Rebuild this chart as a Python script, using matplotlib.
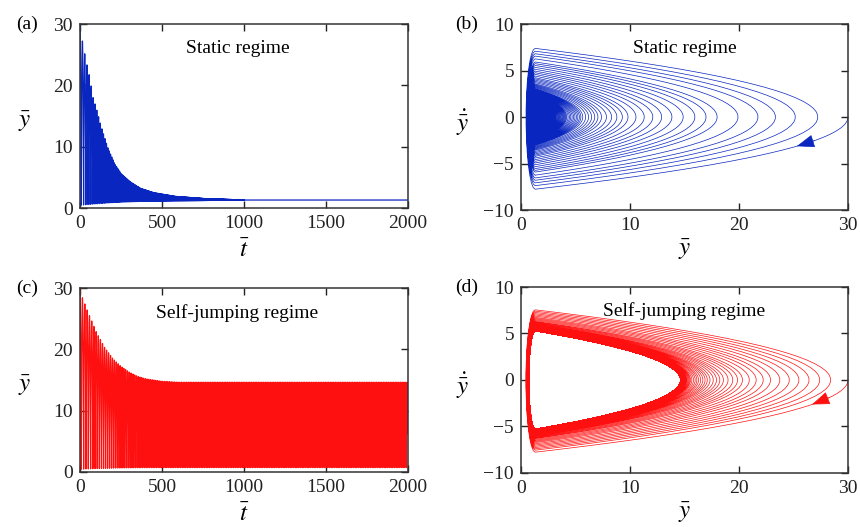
import numpy as np
import matplotlib
matplotlib.use("Agg")
from matplotlib import pyplot as plt

# peak heights of the bounces (a) and (c)
static_t = [0, 15, 30, 45, 60, 80, 100, 130, 170, 210, 250, 310, 370, 450, 580, 780, 1000, 2000]
static_peak = [30, 27.2, 25.0, 23.0, 21.2, 18.0, 16.2, 13.2, 9.8, 7.3, 5.6, 4.2, 3.2, 2.5, 1.9, 1.5, 1.32, 1.3]
jump_t = [0, 15, 50, 100, 150, 200, 250, 300, 350, 400, 500, 600, 2000]
jump_peak = [30, 28.4, 26.0, 22.8, 20.3, 18.5, 17.2, 16.3, 15.6, 15.2, 14.8, 14.65, 14.65]

# arrow tips on the first fall in (b) and (d)
arrow_tip_b = 25.3
arrow_tip_d = 26.7

rest_level = 1.3
gravity = 1.05
stiffness = 9.0

t_ticks = [0, 500, 1000, 1500, 2000]
y_ticks = [0, 10, 20, 30]
v_ticks = [-10, -5, 0, 5, 10]

blue = "#0a26c0"
red = "#ff1010"


def bounce_path(env_t, env_peak, t_end=2000):
    ts, ys, vs = [], [], []
    h0 = env_peak[0]
    t_fall = np.sqrt(2 * (h0 - rest_level) / gravity)
    s = np.linspace(0, t_fall, 60)
    ts.append(s)
    ys.append(h0 - 0.5 * gravity * s ** 2)
    vs.append(-gravity * s)
    t = t_fall
    v_in = gravity * t_fall
    settled = False
    while t < t_end:
        h = np.interp(t + v_in / gravity, env_t, env_peak)
        if h - rest_level < 0.02:
            settled = True
            break
        v_out = np.sqrt(2 * gravity * (h - rest_level))
        # contact with the ground
        th = np.linspace(0, np.pi, 16)
        amp = np.where(th < np.pi / 2, v_in, v_out)
        ts.append(t + th / stiffness)
        ys.append(rest_level - 0.5 * (v_in + v_out) / stiffness * np.sin(th))
        vs.append(-amp * np.cos(th))
        t += np.pi / stiffness
        # flight
        T = 2 * v_out / gravity
        s = np.linspace(0, T, 40)
        ts.append(t + s)
        ys.append(rest_level + v_out * s - 0.5 * gravity * s ** 2)
        vs.append(v_out - gravity * s)
        t += T
        v_in = v_out
    if settled:
        ts.append(np.array([t, t_end]))
        ys.append(np.array([rest_level, rest_level]))
        vs.append(np.array([0.0, 0.0]))
    return np.concatenate(ts), np.concatenate(ys), np.concatenate(vs)


def style(ax):
    ax.tick_params(direction="in", top=True, right=True, length=5, width=1,
                   labelsize=14, pad=5, colors="#222222")
    for sp in ax.spines.values():
        sp.set_linewidth(1.1)
        sp.set_color("#333333")


def time_panel(ax, t, y, color, title, tag):
    ax.plot(t, y, color=color, lw=0.9)
    ax.set_xlim(0, 2000)
    ax.set_ylim(0, 30)
    ax.set_xticks(t_ticks)
    ax.set_yticks(y_ticks)
    style(ax)
    ax.text(0.48, 0.865, title, transform=ax.transAxes, ha="center", va="center", fontsize=14)
    ax.text(-0.16, 1.0, tag, transform=ax.transAxes, ha="center", va="center", fontsize=14)
    ax.set_ylabel(r"$\bar{y}$", fontsize=18, rotation=0, va="center")
    ax.yaxis.set_label_coords(-0.168, 0.47)
    ax.set_xlabel(r"$\bar{t}$", fontsize=18, va="center")
    ax.xaxis.set_label_coords(0.5, -0.235)


def phase_panel(ax, y, v, color, title, tag, tip):
    ax.plot(y, v, color=color, lw=0.5)
    ax.set_xlim(0, 30)
    ax.set_ylim(-10, 10)
    ax.set_xticks([0, 10, 20, 30])
    ax.set_yticks(v_ticks)
    style(ax)
    ax.text(0.5, 0.87, title, transform=ax.transAxes, ha="center", va="center", fontsize=14)
    ax.text(-0.165, 1.0, tag, transform=ax.transAxes, ha="center", va="center", fontsize=14)
    ax.set_ylabel(r"$\dot{\bar{y}}$", fontsize=18, rotation=0, va="center")
    ax.yaxis.set_label_coords(-0.177, 0.47)
    ax.set_xlabel(r"$\bar{y}$", fontsize=18, va="center")
    ax.xaxis.set_label_coords(0.5, -0.215)
    # arrow on the first fall
    fall = slice(0, 60)
    yf, vf = y[fall][::-1], v[fall][::-1]
    tail = tip + 1.6
    ax.annotate("", xy=(tip, np.interp(tip, yf, vf)),
                xytext=(tail, np.interp(tail, yf, vf)),
                arrowprops=dict(arrowstyle="-|>,head_length=0.6,head_width=0.22",
                                mutation_scale=19, color=color, lw=0.5,
                                shrinkA=0, shrinkB=0))


def main():
    plt.rcParams["font.family"] = ["Liberation Serif", "DejaVu Serif"]
    plt.rcParams["mathtext.fontset"] = "stix"
    fig = plt.figure(figsize=(8.6, 5.27), dpi=100)
    ax_a = fig.add_axes([0.0930, 0.6053, 0.3814, 0.3491])
    ax_b = fig.add_axes([0.6058, 0.6015, 0.3802, 0.3529])
    ax_c = fig.add_axes([0.0930, 0.1044, 0.3814, 0.3491])
    ax_d = fig.add_axes([0.6058, 0.1025, 0.3802, 0.3529])

    t, y, v = bounce_path(static_t, static_peak)
    time_panel(ax_a, t, y, blue, "Static regime", "(a)")
    phase_panel(ax_b, y, v, blue, "Static regime", "(b)", arrow_tip_b)

    t, y, v = bounce_path(jump_t, jump_peak)
    time_panel(ax_c, t, y, red, "Self-jumping regime", "(c)")
    phase_panel(ax_d, y, v, red, "Self-jumping regime", "(d)", arrow_tip_d)

    fig.savefig("out.png", dpi=100)


if __name__ == "__main__":
    main()
